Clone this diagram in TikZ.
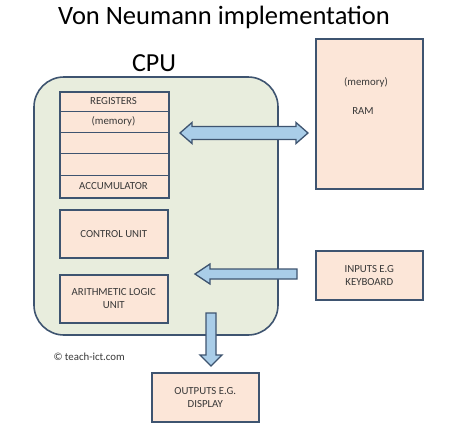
\documentclass[tikz,border=0pt]{standalone}
\usepackage{fontspec}
\setmainfont{Carlito}
\begin{document}
\begin{tikzpicture}[x=1pt,y=-1pt,
  edge/.style={draw=boxline, line width=1.6pt},
  lbl/.style={text=txt, font=\fontsize{10.8}{13}\selectfont},
  unit/.style={edge, fill=peach, inner sep=0pt, lbl, align=center},
  bigarrow/.style={draw=boxline, line width=1.3pt, fill=arrowblue, line join=miter}]
\definecolor{boxline}{HTML}{3E5470}
\definecolor{peach}{HTML}{FCE6D8}
\definecolor{cpufill}{HTML}{E8EDDD}
\definecolor{arrowblue}{HTML}{A9CDE8}
\definecolor{txt}{HTML}{383838}
\useasboundingbox (0,0) rectangle (474,426);
\fill[white] (0,0) rectangle (474,426);
% title
\node[font=\fontsize{26.5}{31}\selectfont, text=black] (title) at (224,17) {Von Neumann implementation};
\node[font=\fontsize{26}{31}\selectfont, text=black] (cpulabel) at (154,63) {CPU};
% CPU container
\draw[edge, fill=cpufill, rounded corners=30pt] (34,77) rectangle (278,335);
% registers
\node[unit, minimum width=109pt, minimum height=106pt, anchor=north west] (reg) at (59,91) {};
\foreach \y in {111,132,153,175} \draw[boxline, line width=0.8pt] (59,\y) -- (168,\y);
\node[lbl] (regt) at (113.5,101) {REGISTERS};
\node[lbl] (memt) at (113.5,121.5) {(memory)};
\node[lbl] (acct) at (113.5,186) {ACCUMULATOR};
% control unit
\node[unit, minimum width=108pt, minimum height=48pt, anchor=north west] (cu) at (59,209) {CONTROL UNIT};
% ALU
\node[unit, minimum width=108pt, minimum height=48pt, anchor=north west] (alu) at (59,274) {ARITHMETIC LOGIC\\UNIT};
\node[lbl, anchor=west] (copy) at (50,357) {© teach-ict.com};
% RAM
\node[unit, minimum width=107pt, minimum height=150pt, anchor=north west] (ram) at (315,38) {};
\node[lbl] (ramm) at (366,82) {(memory)};
\node[lbl] (ramt) at (363,111) {RAM};
% inputs
\node[unit, minimum width=107pt, minimum height=49pt, anchor=north west] (inp) at (315,250) {INPUTS E.G\\KEYBOARD};
% outputs
\node[unit, minimum width=107pt, minimum height=49pt, anchor=north west] (outp) at (151,372) {OUTPUTS E.G.\\DISPLAY};
% arrows
\draw[bigarrow] (180,133) -- (192,122.5) -- (192,126.5) -- (296,126.5) -- (296,122.5) -- (308,133) -- (296,143.5) -- (296,139.5) -- (192,139.5) -- (192,143.5) -- cycle;
\draw[bigarrow] (195,274) -- (210,264) -- (210,269) -- (297,269) -- (297,279) -- (210,279) -- (210,284) -- cycle;
\draw[bigarrow] (206,313) -- (216,313) -- (216,355) -- (222,355) -- (211,366) -- (200,355) -- (206,355) -- cycle;
\end{tikzpicture}
\end{document}
